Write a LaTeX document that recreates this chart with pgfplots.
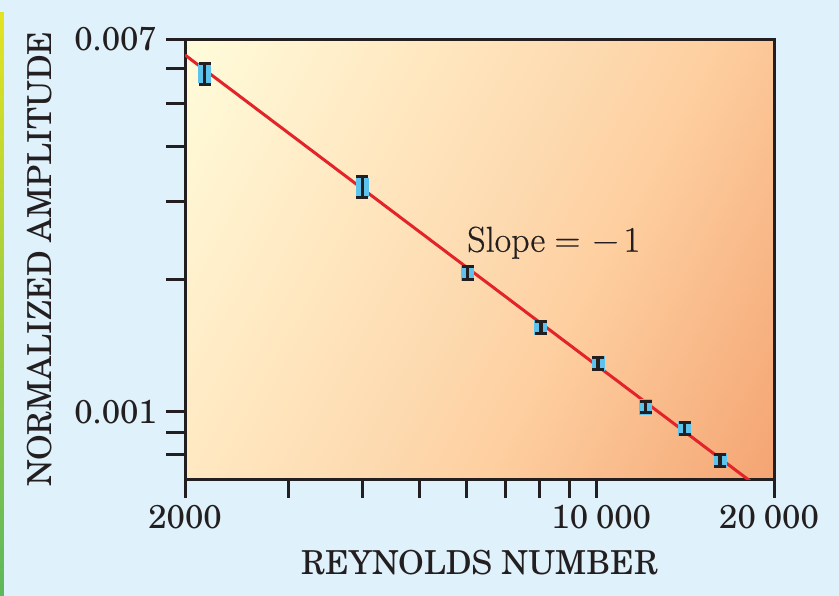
\documentclass[border=0pt]{standalone}
\usepackage{pgfplots}
\pgfplotsset{compat=1.18}
\usepackage{fontspec}
\setmainfont{TeX Gyre Schola}
\newfontfamily\lmfont[FakeBold=0.5]{Latin Modern Roman}
\definecolor{bgblue}{HTML}{DFF1FB}
\definecolor{axisblack}{HTML}{231F20}
\definecolor{linered}{HTML}{E3232A}
\definecolor{markblue}{HTML}{5EC3EC}
\definecolor{plotlight}{HTML}{FFFCDB}
\definecolor{plotBL}{HTML}{FFE4BC}
\definecolor{plotC}{HTML}{FDDAB0}
\definecolor{plotTR}{HTML}{FECFA0}
\definecolor{plotdark}{HTML}{F4A472}
\definecolor{stripyellow}{HTML}{E4E320}
\definecolor{stripgreen}{HTML}{5CB85C}
\pgfdeclareverticalshading{plotbg}{100bp}{color(0bp)=(plotdark); color(16bp)=(plotdark); color(40bp)=(plotTR); color(50bp)=(plotC); color(60bp)=(plotBL); color(84bp)=(plotlight); color(100bp)=(plotlight)}
\newcommand\bigfont{\fontsize{33}{39}\selectfont}
% x, y, black error bar e, blue box half-height b
\pgfplotstableread{
x y e b
2160 0.005852 0.000322 0.000300
4000 0.003238 0.000172 0.000160
6040 0.002068 0.0000700 0.0000850
8040 0.001555 0.0000470 0.0000620
10050 0.001289 0.0000385 0.0000510
12100 0.001028 0.0000310 0.0000410
14100 0.000919 0.0000275 0.0000365
16200 0.000778 0.0000235 0.0000310
}\pts
\begin{document}
\begin{tikzpicture}
\useasboundingbox (-185pt,-117pt) rectangle (654pt,479pt);
\fill[bgblue] (-185pt,-117pt) rectangle (654pt,479pt);
\shade[top color=stripyellow, bottom color=stripgreen] (-185pt,-117pt) rectangle (-181pt,466pt);
\begin{axis}[
  at={(0pt,0pt)}, anchor=south west,
  scale only axis, width=589pt, height=440pt,
  xmode=log, ymode=log,
  xmin=2000, xmax=20000, ymin=0.000705, ymax=0.007,
  axis line style={line width=3pt, axisblack},
  tick align=outside, tick pos=left,
  major tick length=19pt,
  tick style={line width=3pt, axisblack},
  xtick={2000,3000,4000,5000,6000,7000,8000,9000,10000,20000},
  xticklabels={2000,,,,,,,,\hspace*{9pt}10\hspace{0.24em}000,20\hspace{0.24em}000\hspace*{10pt}},
  ytick={0.0008,0.0009,0.001,0.002,0.003,0.004,0.005,0.006,0.007},
  yticklabels={,,0.001,,,,,,0.007},
  minor xtick={}, minor ytick={},
  /pgf/number format/assume math mode=true,
  tick label style={font=\bigfont, inner sep=0pt, text=axisblack},
  xticklabel style={anchor=center, yshift=-19pt},
  yticklabel style={anchor=east, xshift=-9pt},
  xlabel={REYNOLDS NUMBER}, ylabel={NORMALIZED AMPLITUDE},
  label style={font=\bigfont, text=axisblack, inner sep=0pt},
  xlabel style={at={(axis description cs:0.5,-0.1909)}, anchor=center},
  ylabel style={at={(axis description cs:-0.2470,0.5)}, anchor=center},
  axis background/.style={shade, shading=plotbg, shading angle=62},
]
\addplot[linered, line width=3pt] coordinates {(2000,0.00644) (20000,0.000635)};
% light blue boxes behind the error bars
\addplot[draw=none, mark=none, forget plot, error bars/.cd, y dir=both, y explicit, error mark=none,
  error bar style={draw=markblue, line width=13pt}] table[x=x,y=y,y error=b] {\pts};
% black error bars
\addplot[draw=none, mark=none, forget plot, error bars/.cd, y dir=both, y explicit, error mark=-,
  error bar style={draw=axisblack, line width=3.4pt},
  error mark options={rotate=90, draw=axisblack, line width=3pt, mark size=6pt}] table[x=x,y=y,y error=e] {\pts};
\node[anchor=base west, font={\lmfont\fontsize{36}{42}\selectfont}, text=axisblack, inner sep=0pt] at (axis cs:6024,0.002307) {Slope\hspace{0.26em}=\hspace{0.34em}−\hspace{0.14em}1};
\end{axis}
\end{tikzpicture}
\end{document}
